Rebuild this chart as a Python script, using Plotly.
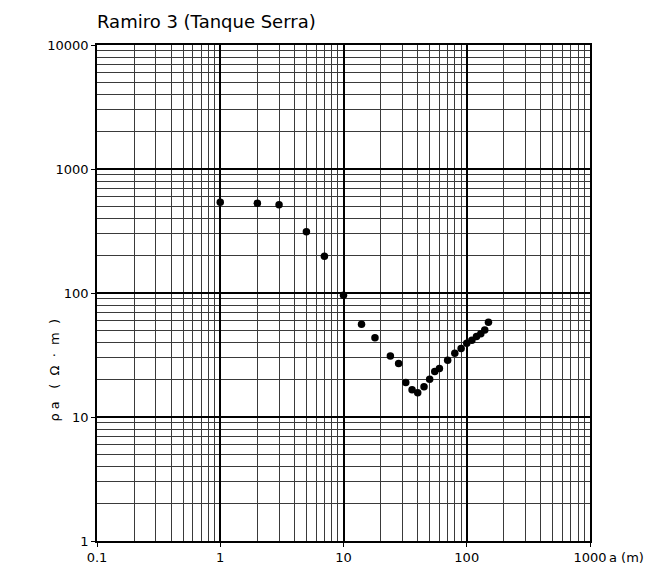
import plotly.graph_objects as go

# Electrode spacing a (m) and apparent resistivity (ohm.m)
a_m = [1, 2, 3, 5, 7, 10, 14, 18, 24, 28, 32, 36, 40, 45, 50, 55, 60, 70, 80, 90,
       100, 110, 120, 130, 140, 150]
rho_a = [540, 530, 515, 312, 198, 96, 56, 43.5, 31, 27, 19, 16.6, 15.7, 17.5, 20.2, 23.3,
         24.6, 28.7, 32.6, 35.6, 39.3, 41.5, 44.6, 47, 50.3, 58]

x_ticks = [0.1, 1, 10, 100, 1000]
x_tick_labels = ['0.1', '1', '10', '100', '1000']
y_ticks = [1, 10, 100, 1000, 10000]
y_tick_labels = ['1', '10', '100', '1000', '10000']

FONT = 'DejaVu Sans, Liberation Sans, Arial'
NB = '\u00a0'

fig = go.Figure()
fig.add_trace(go.Scatter(
    x=a_m, y=rho_a, mode='markers',
    marker=dict(color='black', size=7.5),
    showlegend=False,
))

axis_common = dict(
    type='log', automargin=False,
    showline=True, linecolor='black', linewidth=1.5, mirror=True,
    showgrid=True, gridcolor='black', gridwidth=1.5,
    ticks='outside', ticklen=4, tickcolor='black',
    tickfont=dict(family=FONT, size=13, color='black'),
    minor=dict(dtick='D1', showgrid=True, gridcolor='#3a3a3a', gridwidth=1,
               ticks=''),
    zeroline=False,
)

# page body has an 8px margin, so the figure is sized to fit the window
fig.update_layout(
    width=647, height=559,
    margin=dict(l=89, r=65, t=37, b=26),
    paper_bgcolor='white', plot_bgcolor='white',
    title=dict(text='Ramiro 3 (Tanque Serra)', xref='paper', x=0, xanchor='left',
               y=0.975, yanchor='middle',
               font=dict(family=FONT, size=18, color='black')),
    xaxis=dict(axis_common, range=[-1, 3], tickvals=x_ticks, ticktext=x_tick_labels),
    yaxis=dict(axis_common, range=[0, 4], tickvals=y_ticks, ticktext=y_tick_labels),
)

fig.add_annotation(text='a (m)', xref='paper', yref='paper', x=1.035, y=0,
                   xanchor='left', yanchor='top', yshift=-7, showarrow=False,
                   font=dict(family=FONT, size=13, color='black'))
y_title = NB.join(['ρ', 'a', '', '', '(', '', 'Ω', '', '·', '', 'm', '', ')'])
fig.add_annotation(text=y_title, xref='paper', yref='paper', x=-0.105, y=0.345,
                   textangle=-90, showarrow=False,
                   font=dict(family=FONT, size=13, color='black'))

fig.write_html('out.html')
